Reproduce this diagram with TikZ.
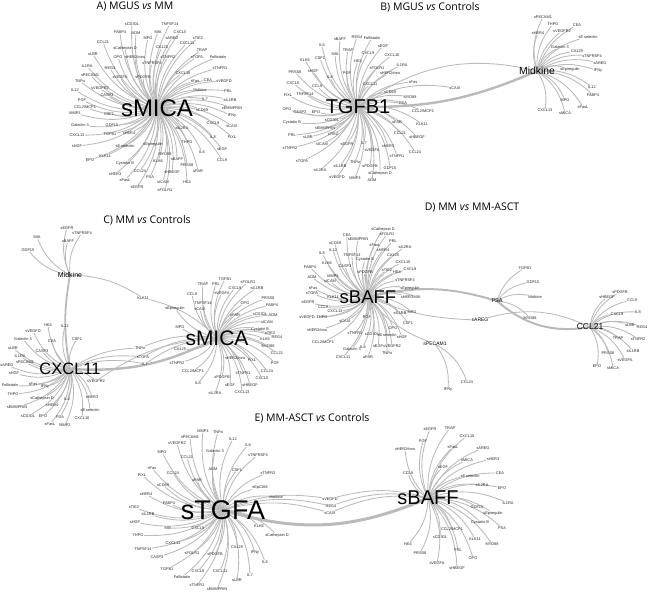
\documentclass[tikz,border=0pt]{standalone}
\usepackage{fontspec}
\setmainfont{Liberation Sans}
\newfontfamily\titlefont{Open Sans}
\usetikzlibrary{backgrounds}
\definecolor{spokegray}{RGB}{186,186,186}
\newcommand\sla{/}
\newcommand\hubspokes[3]{%
  \foreach \t/\x/\y [count=\i] in {#3}
    \node[lab] (#2\i) at (\x,\y) {\t};
  \begin{pgfonlayer}{background}
  \foreach \t/\x/\y [count=\i] in {#3}
    \draw[spoke] (#1.center) to[bend left=20] (#2\i);
  \end{pgfonlayer}}
\newcommand\bridges[4]{%
  \foreach \t/\x/\y [count=\i] in {#4}
    \node[lab] (#3\i) at (\x,\y) {\t};
  \begin{pgfonlayer}{background}
  \foreach \t/\x/\y [count=\i] in {#4} {
    \draw[spoke] (#1.center) to[bend left=15] (#3\i);
    \draw[spoke] (#3\i) to[bend left=15] (#2.center);
  }
  \end{pgfonlayer}}

\begin{document}
\begin{tikzpicture}[x=1pt,y=-1pt]
\tikzstyle{every node}+=[inner sep=0pt]
\tikzstyle{lab}=[inner sep=0.4pt,text=black!85,font=\fontsize{3.9}{4}\selectfont]
\tikzstyle{spoke}=[draw=spokegray,line width=0.85pt]
\tikzstyle{link}=[draw=spokegray,line width=2.4pt]
\tikzstyle{ttl}=[font=\titlefont\fontsize{10.5}{12}\selectfont]
\useasboundingbox (0,0) rectangle (650,592);

\node[ttl] (ttlA) at (135,7) {A) MGUS \textit{vs} MM};
\node[ttl] (ttlB) at (430,7) {B) MGUS \textit{vs} Controls};
\node[ttl] (ttlC) at (147,220) {C) MM \textit{vs} Controls};
\node[ttl] (ttlD) at (472,208) {D) MM \textit{vs} MM-ASCT};
\node[ttl] (ttlE) at (312,418) {E) MM-ASCT \textit{vs} Controls};

% A
\node[font=\fontsize{24}{24}\selectfont] (micaA) at (157,108) {sMICA};
\hubspokes{micaA}{a}{sCD30L/132/24, TNFSF14/170/24, FABP4/120/32, ADM/136/33, MIA/158/32, CXCL5/180/32,
 MPO/148/38, sAREG/172/38, sTIE2/198/38, CCL21/103/42, sCathepsin D/125/48, CA125/162/47, CXCL11/187/43,
 TRAP/202/50, sLBR/93/54, OPG/118/57, sHER2\sla neu/135/57, sTNFR2/168/57, sTGFA/197/57, Follistatin/218/57,
 IL1RA/87/66, REG4/110/68, sTNFRSF4/152/63, sTNFR1/220/68, sPECAM1/90/75, sVEGFA/120/77, sPDGFB/143/77,
 CXCL10/183/73, TNFα/80/81, sFas/195/81, CEA/208/80, sVEGFD/224/81, IL12/75/90, sVEGFR2/100/88,
 Midkine/200/90, PRL/228/91, PGF/82/100, CASP3/107/95, IL7/205/99, sIL1RB/230/100, CCL2\sla MCP1/85/107,
 sEMMPRIN/232/108, MMP3/75/113, CSF1/109/114, sCD69/202/110, IFNγ/232/116, Galectin 3/80/125,
 GDF15/112/125, CXCL9/213/123, sCAIX/232/126, sIL2RA/182/128, CXCL13/77/135, TGFB1/110/134,
 sHER4/129/133, IL8/213/137, FIXL/232/137, sHGF/77/146, sE selectin/125/146, sEpiregulin/153/144,
 THPO/187/142, IL6/202/152, sEGF/222/149, KLK11/105/156, MYD88/165/154, sBAFF/177/159, EPO/90/160,
 Cystatin B/125/163, KLK6/158/161, PRSS8/187/165, uPAR/198/171, CCL9/222/160, sHER3/115/174,
 CCL24/140/171, sHBEGF/172/172, sFasL/125/180, PSA/150/177, sICAM/163/182, HE4/187/182,
 sEGFR/137/187, sFOLR1/165/190}

% B
\node[font=\fontsize{20}{20}\selectfont] (tgfbB) at (358,107) {TGFB1};
\node[font=\fontsize{10.4}{11}\selectfont] (midkB) at (537,71) {Midkine};
\hubspokes{tgfbB}{b}{sBAFF/340/39, REG4/357/37, Follistatin/372/38, sEGF/383/46, IL6/322/45, MIA/335/54,
 TRAP/348/50, CXCL9/368/53, CXCL10/392/55, KLK6/305/60, CSF1/320/58, HE4/358/61, sFOLR1/377/68,
 IL1RA/402/65, PRSS8/295/72, sHGF/313/71, PGF/347/73, sHER2\sla neu/390/73, IL8/330/77, CXCL5/293/83,
 CCL9/317/86, CXCL11/370/84, sFas/413/82, FIXL/288/95, TNFSF14/305/94, sCD69/390/92, MYD88/410/97,
 PSA/403/103, OPG/287/109, CASP3/300/112, EPO/316/112, CCL2\sla MCP1/423/111, Cystatin B/292/122,
 sCD30L/332/120, uPAR/397/122, KLK11/422/124, sEMMPRIN/325/128, PRL/292/135, sLBR/308/137,
 sTIE2/333/134, CCL21/400/133, sHBEGF/417/137, sTNFR2/290/148, sICAM/322/144, sEGFR/347/144,
 IL7/364/143, sVEGFA/372/150, sHER3/388/146, CCL24/415/152, sTGFA/302/161, sTNFR1/397/156,
 sIL2RA/320/170, sIL1RB/340/166, TNFα/355/162, sPDGFB/370/166, GDF15/390/168, sCathepsin D/380/173,
 sVEGFD/337/177, MMP3/355/178, ADM/372/180, sCAIX/455/88}
\hubspokes{midkB}{bm}{sPECAM1/543/17, THPO/553/24, CEA/577/25, sHER4/538/33, sVEGFR2/562/31,
 sE selectin/588/37, Galectin 3/560/47, CA125/577/51, sTNFRSF4/592/56, sAREG/600/63, sEpiregulin/570/69,
 IFNγ/598/71, IL12/592/87, FABP4/593/95, MPO/565/100, sFasL/583/107, CXCL13/545/110, sMICA/565/113}
\begin{pgfonlayer}{background}
\draw[link] (tgfbB.center) to[bend right=12] (midkB.center);
\draw[spoke] (tgfbB.center) to[bend left=25] (midkB.center);
\end{pgfonlayer}

% C
\node[font=\fontsize{7}{7}\selectfont] (midkC) at (70,275) {Midkine};
\node[font=\fontsize{16.5}{17}\selectfont] (cxclC) at (70,369) {CXCL11};
\node[font=\fontsize{21}{21}\selectfont] (micaC) at (217,338) {sMICA};
\hubspokes{midkC}{cm}{sEGFR/67/228, sTNFRSF4/82/233, MIA/37/237, sBAFF/68/241, GDF15/28/250}
\hubspokes{cxclC}{cx}{HE4/48/325, IL12/65/326, sVEGFD/33/331, CSF1/77/339, Galectin 3/23/339, CEA/52/341,
 sLBR/13/348, CASP3/42/351, IL1RA/20/356, sPECAM1/25/362, sAREG/7/365, sHGF/14/373, Follistatin/10/385,
 sFas/33/384, IFNγ/45/387, THPO/13/394, sCathepsin D/42/398, IL6/67/399, sHER3/92/397, sEMMPRIN/17/407,
 sHER4/52/405, sE selectin/90/410, sCD30L/28/416, EPO/43/416, PSA/60/417, CXCL10/82/418, sFasL/50/424,
 MMP3/65/425}
\hubspokes{micaC}{cs}{TGFB1/225/279, TRAP/203/284, PRL/216/284, sFOLR1/248/282, CXCL9/235/288,
 sIL1RB/257/288, CCL9/192/294, sVEGFA/222/293, PRSS8/268/298, TNFSF14/203/303, OPG/245/303,
 FABP4/272/305, sEpiregulin/175/308, sCAIX/200/309, uPAR/235/315, sCD30L/260/314, ADM/273/315,
 sICAM/267/322, MPO/180/327, Cystatin B/260/329, sTIE2/270/333, REG4/277/337, KLK6/265/339,
 MYD88/268/346, CA125/180/349, CCL21/277/353, FIXL/252/360, sHER2\sla neu/235/358, sTNFR2/177/363,
 PGF/275/363, CCL2\sla MCP1/193/371, sTNFR1/243/373, CCL24/267/371, sPDGFB/222/377, CXCL5/262/378,
 IL8/198/383, sEGF/230/385, sHBEGF/250/385, sIL2RA/215/393, CXCL13/242/392}
\bridges{cxclC}{micaC}{cb}{TNFα/140/348, sTGFA/143/357, IL7/145/364, sVEGFR2/96/381}
\bridges{midkC}{micaC}{ck}{KLK11/143/298}
\begin{pgfonlayer}{background}
\draw[link,line width=1.8pt] (midkC.center) to[bend right=10] (cxclC.center);
\draw[link] (cxclC.center) to[bend right=15] (micaC.center);
\end{pgfonlayer}

% D
\node[font=\fontsize{18.5}{19}\selectfont] (baffD) at (368,297) {sBAFF};
\node[font=\fontsize{5.5}{6}\selectfont] (psaD) at (497,301) {PSA};
\node[font=\fontsize{8.5}{9}\selectfont] (cclD) at (590,327) {CCL21};
\node[font=\fontsize{5}{5}\selectfont] (aregD) at (480,320) {sAREG};
\node[font=\fontsize{5}{5}\selectfont] (pecamD) at (435,344) {sPECAM1};
\hubspokes{baffD}{d}{sCathepsin D/383/229, sFOLR1/387/234, CEA/347/235, sEMMPRIN/358/239, sCD69/335/243,
 sFasL/375/245, PRL/393/241, sIL2RA/405/247, sHER4/383/250, IL12/333/250, TNFSF14/352/255, CA125/393/255,
 IL8/322/253, Cystatin B/365/259, CXCL10/403/262, KLK6/327/263, CASP3/345/266, FABP4/310/267,
 sTIE2/387/270, HE4/397/272, CXCL9/410/269, sPDGFB/365/272, ADM/312/277, MMP3/333/276, sICAM/330/281,
 sTNFRSF4/405/280, sFas/313/288, sTGFA/312/293, KLK11/333/297, sEpiregulin/410/288, sHER3/407/297,
 MIA/417/297, sEGFR/308/302, CCL9/323/307, CXCL13/335/311, sIL1RB/400/313, MPO/412/312, sVEGFD/307/317,
 THPO/322/317, sCAIX/345/321, PGF/367/317, CSF1/408/323, OPG/393/328, sHER2\sla neu/317/330,
 sTNFR1/355/333, sCD30L/372/334, sE selectin/387/335, sHGF/402/337, CCL2\sla MCP1/323/342, sEGF/378/346,
 sVEGFR2/392/346, Galectin 3/352/349, IL6/363/347, TNFα/387/353, CXCL11/343/357, uPAR/368/357}
\hubspokes{psaD}{dp}{TGFB1/525/268, GDF15/533/282, Midkine/535/297, MYD88/530/318}
\hubspokes{cclD}{dc}{sHBEGF/607/297, sPDGFB/620/292, CCL9/632/300, CXCL9/617/314, IL8/638/312,
 sLBR/630/325, REG4/642/327, TRAP/618/338, sTNFR2/638/339, sIL1RB/633/351, PRSS8/608/353,
 sVEGFA/625/360, EPO/597/366, sMICA/613/368}
\hubspokes{pecamD}{de}{IFNγ/448/390, CCL24/467/382}
\begin{pgfonlayer}{background}
\draw[link,line width=2pt] (baffD.center) to[bend left=15] (psaD.center);
\draw[link,line width=2pt] (psaD.center) to[bend right=25] (cclD.center);
\draw[spoke] (baffD.center) to[bend right=10] (aregD);
\draw[spoke] (aregD) to[bend left=20] (cclD.center);
\draw[spoke] (baffD.center) to[bend right=15] (pecamD);
\end{pgfonlayer}

% E
\node[font=\fontsize{27}{27}\selectfont] (tgfaE) at (223,510) {sTGFA};
\node[font=\fontsize{20}{20}\selectfont] (baffE) at (428,498) {sBAFF};
\hubspokes{tgfaE}{e}{MMP3/203/431, TNFα/218/432, sPECAM1/190/437, IL12/233/439, sVEGFR2/177/443,
 IL8/248/445, MPO/162/452, CCL21/187/457, Galectin 3/215/451, sTNFRSF4/258/455, sFas/152/468,
 CCL24/173/473, ADM/213/469, CSF1/237/470, sTNFR2/268/473, FIXL/142/475, uPAR/197/480, sCD69/163/485,
 sEpCAM/260/488, sHER4/146/494, Midkine/276/497, FABP4/169/503, sTIE2/134/507, sIL1RB/148/514,
 sHGF/135/522, KLK6/259/526, THPO/138/535, MIA/168/528, CXCL9/198/528, sCathepsin D/277/535,
 TNFSF14/143/549, CXCL13/173/543, CA125/237/547, CASP3/157/557, sFOLR1/192/553, sPDGFB/215/554,
 IFNγ/255/553, IL6/265/562, TGFB1/167/569, CXCL5/198/571, CXCL11/220/571, Follistatin/182/577,
 IL7/250/575, sLBR/237/580, sTNFR1/197/585, sEMMPRIN/217/589}
\hubspokes{baffE}{f}{sEGFR/430/429, TRAP/450/428, CXCL10/467/436, PGF/423/441, sHER2\sla neu/405/449,
 sFasL/453/447, sAREG/483/448, sMICA/467/460, sHER3/493/459, sEGF/443/467, CCL9/408/473,
 sE selectin/470/476, CEA/500/473, sIL2RA/482/485, EPO/502/488, GDF15/477/507, IL1RA/508/503,
 sEpiregulin/493/513, Cystatin B/480/522, PSA/502/528, CCL2\sla MCP1/452/529, KLK11/475/539,
 MYD88/492/544, sCD30L/440/537, HE4/408/544, PRL/458/550, OPG/473/558, PRSS8/420/553,
 sVEGFA/437/563, sHBEGF/457/568}
\bridges{tgfaE}{baffE}{eb}{sVEGFD/330/499, REG4/331/506, sCAIX/330/513}
\begin{pgfonlayer}{background}
\draw[link,line width=3pt] (tgfaE.center) to[bend right=20] (baffE.center);
\end{pgfonlayer}
\end{tikzpicture}
\end{document}
